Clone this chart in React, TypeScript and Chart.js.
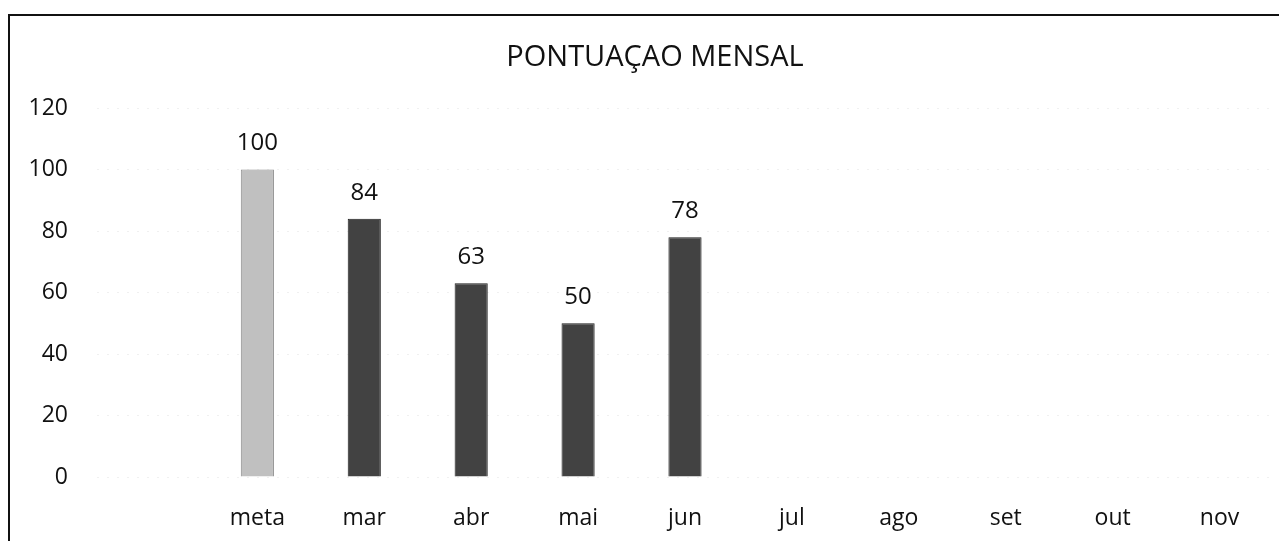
import React, { useEffect, useRef } from "react";
import { Chart, registerables } from "chart.js";

Chart.register(...registerables);

const categories = ["", "meta", "mar", "abr", "mai", "jun", "jul", "ago", "set", "out", "nov"];
const scores: (number | null)[] = [null, 100, 84, 63, 50, 78, null, null, null, null, null];
const barColors = ["#444", "#c0c0c0", "#424242", "#424242", "#424242", "#424242", "#424242", "#424242", "#424242", "#424242", "#424242"];
const borderColors = ["#222", "#8a8a8a", "#1e1e1e", "#1e1e1e", "#1e1e1e", "#1e1e1e", "#1e1e1e", "#1e1e1e", "#1e1e1e", "#1e1e1e", "#1e1e1e"];
const yTicks = [0, 20, 40, 60, 80, 100, 120];
const chartTitle = "PONTUAÇAO MENSAL";

const FONT = "'Open Sans', 'DejaVu Sans', sans-serif";

const valueLabels = {
  id: "valueLabels",
  afterDatasetsDraw(chart: any) {
    const ctx = chart.ctx;
    const meta = chart.getDatasetMeta(0);
    ctx.save();
    ctx.font = `24px ${FONT}`;
    ctx.fillStyle = "#111";
    ctx.textAlign = "center";
    ctx.textBaseline = "middle";
    meta.data.forEach((bar: any, i: number) => {
      const v = scores[i];
      if (v === null || v === undefined) return;
      ctx.fillText(String(v), bar.x, bar.y - 26);
    });
    ctx.restore();
  },
};

const titleDraw = {
  id: "titleDraw",
  afterDraw(chart: any) {
    const ctx = chart.ctx;
    ctx.save();
    ctx.font = `29px ${FONT}`;
    ctx.fillStyle = "#111";
    ctx.textAlign = "center";
    ctx.textBaseline = "middle";
    ctx.fillText(chartTitle, 645, 42);
    ctx.restore();
  },
};

export default function App() {
  const ref = useRef<HTMLCanvasElement | null>(null);
  useEffect(() => {
    if (!ref.current) return;
    const chart = new Chart(ref.current, {
      type: "bar",
      data: {
        labels: categories,
        datasets: [
          {
            data: scores,
            backgroundColor: barColors,
            borderColor: borderColors,
            borderWidth: 1,
            barPercentage: 0.31,
            categoryPercentage: 1,
          },
        ],
      },
      options: {
        animation: false,
        responsive: false,
        layout: { padding: { top: 92, right: 14, bottom: 0, left: 0 } },
        plugins: {
          legend: { display: false },
          tooltip: { enabled: false },
          title: { display: false },
        },
        scales: {
          x: {
            afterFit: (s: any) => {
              s.height = 64;
            },
            grid: { display: false, drawTicks: false },
            border: { display: false },
            ticks: { color: "#111", font: { family: FONT, size: 23 }, padding: 28, maxRotation: 0 },
          },
          y: {
            min: 0,
            max: 120,
            afterFit: (s: any) => {
              s.width = 87;
            },
            afterBuildTicks: (s: any) => {
              s.ticks = yTicks.map((v) => ({ value: v }));
            },
            grid: { color: "rgba(0,0,0,0.06)", drawTicks: false },
            border: { display: false, dash: [2, 8] },
            ticks: { color: "#111", font: { family: FONT, size: 23 }, padding: 29 },
          },
        },
      },
      plugins: [valueLabels, titleDraw],
    });
    return () => chart.destroy();
  }, []);
  return (
    <div
      style={{
        marginTop: 6,
        width: 1277,
        height: 525,
        borderTop: "2px solid #111",
        borderLeft: "2px solid #111",
        overflow: "hidden",
      }}
    >
      <canvas ref={ref} width={1277} height={525} style={{ display: "block" }} />
    </div>
  );
}
